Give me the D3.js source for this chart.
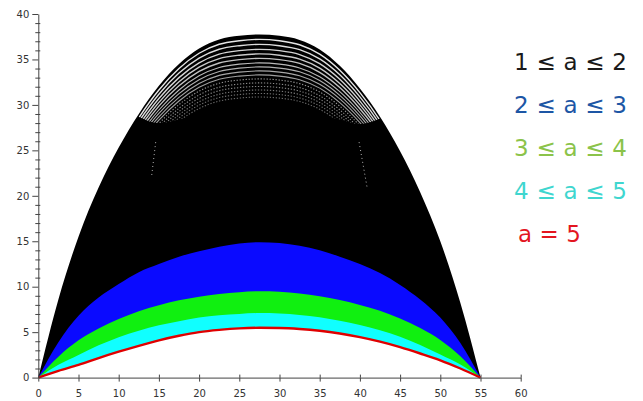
<!DOCTYPE html>
<html>
<head>
<meta charset="utf-8">
<script src="https://cdn.jsdelivr.net/npm/d3@7/dist/d3.min.js"></script>
<style>
  body { margin: 0; background: #fff; }
  svg { display: block; }
</style>
</head>
<body>
<div id="chart"></div>
<script>
// sample positions along x (every 2.5 units)
const xs = [0, 2.5, 5, 7.5, 10, 12.5, 15, 17.5, 20, 22.5, 25, 27.5,
            30, 32.5, 35, 37.5, 40, 42.5, 45, 47.5, 50, 52.5, 55];

// boundary curves, y value at each xs
const curveA1 = [0, 8.6, 15.5, 20.9, 25.3, 29.0, 32.1, 34.5, 36.2, 37.2, 37.6, 37.75,
                 37.6, 37.15, 36.1, 34.3, 31.8, 28.7, 24.9, 20.4, 15.0, 8.2, 0];
const curveA2 = [0, 3.9, 6.8, 8.8, 10.3, 11.6, 12.5, 13.3, 13.9, 14.4, 14.75, 14.9,
                 14.8, 14.5, 14.0, 13.3, 12.5, 11.5, 10.2, 8.6, 6.6, 3.8, 0];
const curveA3 = [0, 2.3, 4.1, 5.4, 6.45, 7.3, 7.95, 8.5, 8.9, 9.2, 9.4, 9.5,
                 9.45, 9.25, 8.95, 8.55, 8.0, 7.35, 6.5, 5.45, 4.15, 2.35, 0];
const curveA4 = [0, 1.4, 2.5, 3.55, 4.45, 5.15, 5.75, 6.2, 6.6, 6.85, 7.0, 7.1,
                 7.05, 6.9, 6.65, 6.25, 5.8, 5.2, 4.5, 3.6, 2.55, 1.45, 0];
const curveA5 = [0, 0.75, 1.4, 2.15, 2.85, 3.5, 4.1, 4.6, 5.0, 5.25, 5.42, 5.48,
                 5.46, 5.35, 5.15, 4.85, 4.45, 3.95, 3.35, 2.65, 1.9, 1.0, 0];

// white gaps between the densest curves near the top, height at the centre
const stripePeaks = [37.21, 36.66, 36.11, 35.61, 35.12, 34.62, 34.18, 33.74,
                     33.30, 32.86, 32.42, 32.03, 31.64, 31.26, 30.87];
// below this the gaps close up and the black is solid
const floorXs = [12.5, 15, 17.5, 20, 22.5, 25, 27.5, 30, 32.5, 35, 37.5, 40, 42.5];
const stripeFloor = [28.7, 28.0, 28.4, 28.9, 29.4, 29.8, 30.0, 29.8, 29.4, 28.9, 28.4, 27.9, 28.5];

// faint dotted trails in the black
const trailX0 = [14.6, 39.9], trailY0 = [25.9, 25.9];
const trailX1 = [14.1, 40.9], trailY1 = [22.2, 20.9];

const xTicks = [0, 5, 10, 15, 20, 25, 30, 35, 40, 45, 50, 55, 60];
const yTicks = [0, 5, 10, 15, 20, 25, 30, 35, 40];
const yMinorTicks = d3.range(0, 41, 1).filter(v => v % 5 !== 0);

const legendLabels = ["1 \u2264 a \u2264 2", "2 \u2264 a \u2264 3", "3 \u2264 a \u2264 4", "4 \u2264 a \u2264 5", "a = 5"];
const legendColors = ["#1a1a1a", "#1d56a5", "#8bc34a", "#3fd6cf", "#e3161f"];

const width = 643, height = 401;

const svg = d3.select("#chart")
  .append("svg")
  .attr("width", width)
  .attr("height", height);

const xscale = d3.scaleLinear().domain([0, 60]).range([38.3, 520.7]);
const yscale = d3.scaleLinear().domain([0, 40]).range([377.6, 14]);

const idx = xs.map((d, i) => i);

// band between an upper curve and the a = 5 curve
function band(upper, lower, color) {
  const area = d3.area()
    .x(i => xscale(xs[i]))
    .y0(i => yscale(lower[i]))
    .y1(i => yscale(upper[i]))
    .curve(d3.curveMonotoneX);
  svg.append("path")
    .datum(idx)
    .attr("d", area)
    .attr("fill", color);
}

band(curveA1, curveA5, "#000000");

// white gaps in the black family of curves
const peakA1 = d3.max(curveA1);
svg.append("clipPath")
  .attr("id", "stripeClip")
  .append("path")
  .datum(floorXs.map((d, i) => i))
  .attr("d", d3.area()
    .x(i => xscale(floorXs[i]))
    .y0(i => yscale(stripeFloor[i]))
    .y1(yscale(40))
    .curve(d3.curveMonotoneX));

const stripeLine = d3.line()
  .x(d => xscale(d[0]))
  .y(d => yscale(d[1]))
  .curve(d3.curveMonotoneX);

svg.append("g")
  .attr("clip-path", "url(#stripeClip)")
  .selectAll("path")
  .data(stripePeaks)
  .enter()
  .append("path")
  .attr("d", p => stripeLine(xs.map((v, i) => [v, curveA1[i] * p / peakA1])))
  .attr("fill", "none")
  .attr("stroke", "#ffffff")
  .attr("stroke-width", (p, i) => i < 5 ? 1.4 : 1.1)
  .attr("stroke-opacity", (p, i) => 0.9 - i * 0.035)
  .attr("stroke-dasharray", (p, i) => i >= 9 ? "1.3,1.7" : null);

svg.append("g")
  .selectAll("line")
  .data(trailX0)
  .enter()
  .append("line")
  .attr("x1", (d, i) => xscale(trailX0[i]))
  .attr("y1", (d, i) => yscale(trailY0[i]))
  .attr("x2", (d, i) => xscale(trailX1[i]))
  .attr("y2", (d, i) => yscale(trailY1[i]))
  .attr("stroke", "#ffffff")
  .attr("stroke-opacity", 0.7)
  .attr("stroke-width", 1)
  .attr("stroke-dasharray", "1,3");

band(curveA2, curveA5, "#0a0aff");
band(curveA3, curveA5, "#10f010");
band(curveA4, curveA5, "#10ffff");

const redLine = d3.line()
  .x(i => xscale(xs[i]))
  .y(i => yscale(curveA5[i]))
  .curve(d3.curveMonotoneX);

svg.append("path")
  .datum(idx)
  .attr("d", redLine)
  .attr("fill", "none")
  .attr("stroke", "#e00000")
  .attr("stroke-width", 2.4);

// axes
const axisColor = "#444";

svg.append("g")
  .attr("transform", "translate(" + xscale(0) + ",0)")
  .call(d3.axisLeft(yscale).tickValues(yTicks).tickSize(6).tickSizeOuter(0));

svg.append("g")
  .attr("transform", "translate(" + (xscale(0) + 2) + ",0)")
  .call(d3.axisLeft(yscale).tickValues(yMinorTicks).tickSize(5).tickFormat(""))
  .call(g => g.select(".domain").remove());

const xAxis = svg.append("g")
  .attr("transform", "translate(0," + yscale(0) + ")")
  .call(d3.axisBottom(xscale).tickValues(xTicks).tickSize(4).tickSizeOuter(0));

svg.append("g")
  .attr("transform", "translate(0," + yscale(0) + ")")
  .call(d3.axisTop(xscale).tickValues(xTicks).tickSize(3).tickFormat(""))
  .call(g => g.select(".domain").remove());

svg.selectAll(".domain, .tick line")
  .attr("stroke", axisColor);

svg.selectAll(".tick text")
  .attr("fill", "#333")
  .style("font-family", "'DejaVu Sans', sans-serif")
  .style("font-size", "10px");

xAxis.selectAll(".tick text")
  .attr("y", 19.5)
  .attr("dy", 0);

// legend
svg.append("g")
  .selectAll("text")
  .data(legendLabels)
  .enter()
  .append("text")
  .attr("x", (d, i) => i === 4 ? 518 : 514)
  .attr("y", (d, i) => 69.5 + i * 43)
  .attr("textLength", (d, i) => i === 4 ? 63 : 113)
  .attr("lengthAdjust", "spacing")
  .attr("fill", (d, i) => legendColors[i])
  .style("font-family", "'DejaVu Sans', sans-serif")
  .style("font-size", "23px")
  .text(d => d);
</script>
</body>
</html>
